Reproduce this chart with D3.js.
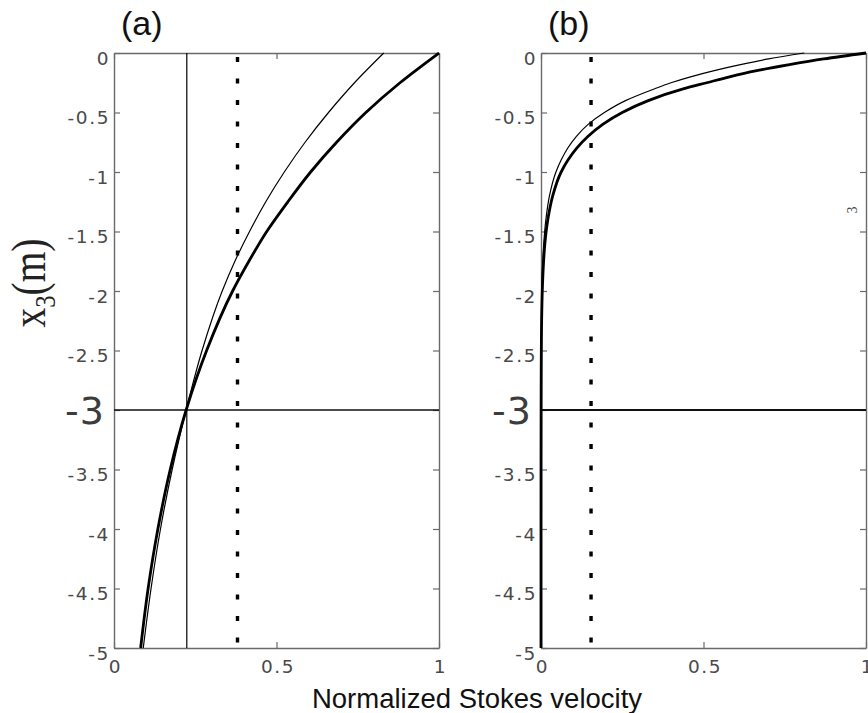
<!DOCTYPE html>
<html><head><meta charset="utf-8">
<script src="https://cdn.jsdelivr.net/npm/d3@7"></script>
<style>body{margin:0;background:#fff}svg{display:block}</style>
</head><body>
<svg id="chart" width="868" height="713"></svg>
<script>
// ---- data ----
const panelTitles = ["(a)", "(b)"];
const xTicks = [0, 0.5, 1];
const yTicks = [0, -0.5, -1, -1.5, -2, -2.5, -3, -3.5, -4, -4.5, -5];
const highlightDepth = -3;
const xLabel = "Normalized Stokes velocity";

// panel (a)
const depthA = [0, -0.25, -0.5, -0.75, -1, -1.25, -1.5, -1.75, -2, -2.5, -3, -3.5, -4, -4.5, -5];
const thickA = [1.0, 0.88, 0.775, 0.685, 0.605, 0.535, 0.47, 0.415, 0.365, 0.285, 0.222, 0.173, 0.135, 0.105, 0.082];
const thinA  = [0.83, 0.74, 0.66, 0.588, 0.524, 0.467, 0.417, 0.372, 0.333, 0.271, 0.222, 0.179, 0.143, 0.114, 0.09];
const vlineA = 0.224;
const dottedA = 0.38;

// panel (b)
const depthB = [0, -0.05, -0.1, -0.15, -0.2, -0.25, -0.3, -0.4, -0.5, -0.6, -0.7, -0.8, -0.9, -1.0, -1.2, -1.4, -1.6, -1.8, -2.0, -2.5, -3, -4, -5];
const thickB = [1.0, 0.87, 0.76, 0.66, 0.58, 0.51, 0.44, 0.33, 0.25, 0.19, 0.145, 0.11, 0.083, 0.062, 0.036, 0.021, 0.012, 0.007, 0.004, 0.001, 0.0003, 0, 0];
const thinB  = [0.81, 0.70, 0.61, 0.53, 0.46, 0.40, 0.35, 0.26, 0.195, 0.145, 0.109, 0.082, 0.062, 0.046, 0.026, 0.015, 0.0085, 0.0047, 0.0027, 0.0006, 0.0001, 0, 0];
const dottedB = 0.154;

// ---- drawing ----
const svg = d3.select("#chart");
const y = d3.scaleLinear().domain([0, -5]).range([53, 648]);
const frameColor = "#6a6a6a";
const tickTextColor = "#4a4a4a";

const panels = [
  {title: panelTitles[0], x0: 114, x1: 439, depth: depthA, thick: thickA, thin: thinA, vline: vlineA, dotted: dottedA},
  {title: panelTitles[1], x0: 541, x1: 866, depth: depthB, thick: thickB, thin: thinB, vline: null, dotted: dottedB}
];

panels.forEach(p => {
  const x = d3.scaleLinear().domain([0, 1]).range([p.x0, p.x1]);
  const g = svg.append("g");

  const left = g.append("g").attr("transform", `translate(${p.x0},0)`)
    .call(d3.axisLeft(y).tickValues(yTicks).tickSizeInner(-6).tickSizeOuter(0).tickPadding(5)
      .tickFormat(d => String(d)));
  const right = g.append("g").attr("transform", `translate(${p.x1},0)`)
    .call(d3.axisRight(y).tickValues(yTicks).tickSizeInner(-6).tickSizeOuter(0).tickFormat(""));
  const bottom = g.append("g").attr("transform", `translate(0,${y(-5)})`)
    .call(d3.axisBottom(x).tickValues(xTicks).tickSizeInner(-6).tickSizeOuter(0).tickPadding(12)
      .tickFormat(d => String(d)));
  const top = g.append("g").attr("transform", `translate(0,${y(0)})`)
    .call(d3.axisTop(x).tickValues(xTicks).tickSizeInner(-6).tickSizeOuter(0).tickFormat(""));

  [left, right, bottom, top].forEach(a => {
    a.selectAll("path.domain").attr("stroke", frameColor).attr("stroke-width", 1.4);
    a.selectAll(".tick line").attr("stroke", frameColor).attr("stroke-width", 1.2);
    a.selectAll(".tick text").attr("fill", tickTextColor)
      .attr("font-family", "DejaVu Sans, sans-serif").attr("font-size", 18.5)
      .attr("letter-spacing", 1.6);
  });
  left.selectAll(".tick text").attr("dy", "0.6em").attr("x", -4);
  left.selectAll(".tick").filter(d => d === highlightDepth).select("text")
    .attr("font-size", 38).attr("letter-spacing", 1).attr("fill", "#3c3c3c")
    .attr("x", -9).attr("dy", "0.36em");
  bottom.selectAll(".tick text").attr("dx", 1);

  if (p.vline !== null) {
    g.append("line").attr("x1", x(p.vline)).attr("x2", x(p.vline))
      .attr("y1", y(0)).attr("y2", y(-5)).attr("stroke", "#000").attr("stroke-width", 1.2);
  }
  g.append("line").attr("x1", p.x0).attr("x2", p.x1)
    .attr("y1", y(highlightDepth)).attr("y2", y(highlightDepth))
    .attr("stroke", "#111").attr("stroke-width", p.vline !== null ? 1.4 : 2.2);
  g.append("line").attr("x1", x(p.dotted)).attr("x2", x(p.dotted))
    .attr("y1", y(0) + 4).attr("y2", y(-5)).attr("stroke", "#000").attr("stroke-width", 3.4)
    .attr("stroke-dasharray", "5,16.5");

  const line = d3.line().curve(d3.curveMonotoneY);
  g.append("path").attr("d", line(p.depth.map((d, i) => [x(p.thin[i]), y(d)])))
    .attr("fill", "none").attr("stroke", "#000").attr("stroke-width", 1.2);
  g.append("path").attr("d", line(p.depth.map((d, i) => [x(p.thick[i]), y(d)])))
    .attr("fill", "none").attr("stroke", "#000").attr("stroke-width", 2.8);

  g.append("text").attr("x", p.x0 + 7).attr("y", 35).text(p.title)
    .attr("font-family", "Liberation Sans, Arial, sans-serif").attr("font-size", 34).attr("fill", "#111");
});

// y label
const yl = svg.append("text")
  .attr("transform", "translate(45,283) rotate(-90)")
  .attr("text-anchor", "middle")
  .attr("font-family", "Liberation Serif, Times New Roman, serif")
  .attr("font-size", 48).attr("fill", "#222")
  .attr("textLength", 89).attr("lengthAdjust", "spacingAndGlyphs");
yl.append("tspan").text("x");
yl.append("tspan").attr("font-size", 30).attr("dy", 10).text("3");
yl.append("tspan").attr("dy", -10).text("(m)");

// x label
svg.append("text").attr("x", 477).attr("y", 708).attr("text-anchor", "middle")
  .attr("font-family", "Liberation Sans, Arial, sans-serif").attr("font-size", 27.5)
  .attr("fill", "#111").text(xLabel);

// stray subscript from a cropped neighbouring label
svg.append("text").attr("transform", "translate(857,210) rotate(-90)")
  .attr("text-anchor", "middle").attr("font-family", "Liberation Serif, serif")
  .attr("font-size", 14).attr("fill", "#444").text("3");
</script>
</body></html>
